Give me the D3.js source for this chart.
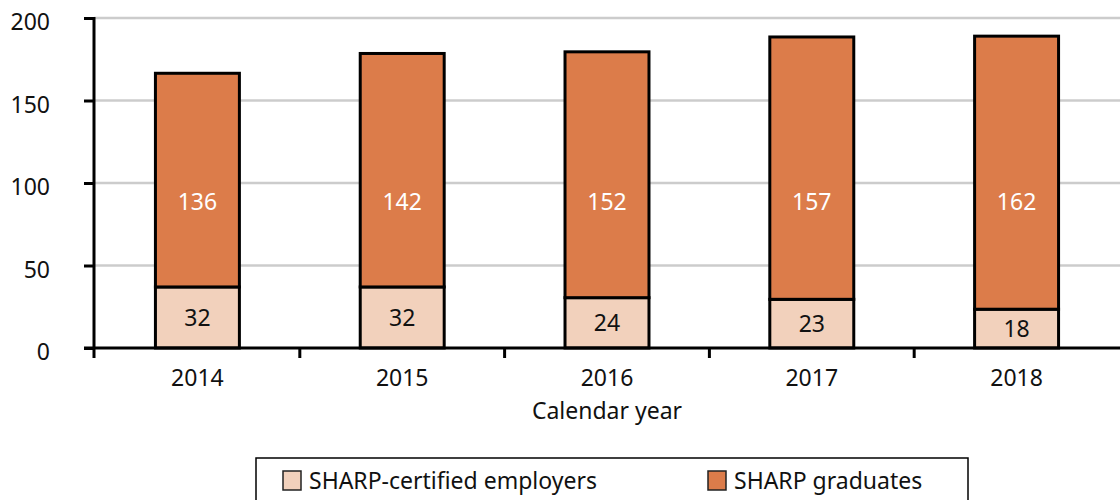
<!DOCTYPE html>
<html>
<head>
<meta charset="utf-8">
<script src="https://cdn.jsdelivr.net/npm/d3@7"></script>
<style>
  body { margin: 0; background: #fff; }
  svg { font-family: "Noto Sans", sans-serif; }
</style>
</head>
<body>
<svg width="1120" height="500"></svg>
<script>
var years = ["2014", "2015", "2016", "2017", "2018"];
// printed labels
var employerLabels = [32, 32, 24, 23, 18];
var graduateLabels = [136, 142, 152, 157, 162];
// segment heights as drawn in the picture (they don't quite match the labels)
var employerBars = [37, 37, 30.5, 29.5, 23.5];
var graduateBars = [129.5, 141.5, 149, 159, 165.5];
var yTicks = [0, 50, 100, 150, 200];
var upperLabelAt = 88.5;

var svg = d3.select("svg");
var margin = { top: 18, left: 94, right: 0, bottom: 152 };
var width = 1120 - margin.left - margin.right,
    height = 500 - margin.top - margin.bottom;

var x = d3.scaleBand().domain(years).range([0, width]).paddingInner(0.59).paddingOuter(0.3);
var y = d3.scaleLinear().domain([0, 200]).range([height, 0]);

var g = svg.append("g")
    .attr("transform", "translate(" + margin.left + "," + margin.top + ")");

// gridlines
g.selectAll(".grid")
  .data(yTicks.slice(1))
  .enter().append("line")
    .attr("x1", 0).attr("x2", width)
    .attr("y1", d => y(d)).attr("y2", d => y(d))
    .attr("stroke", "#cccccc")
    .attr("stroke-width", 2.5);

var data = years.map((yr, i) => ({
  year: yr, emp: employerBars[i], grad: graduateBars[i],
  empLabel: employerLabels[i], gradLabel: graduateLabels[i]
}));

// lower segment
g.selectAll(".emp")
  .data(data)
  .enter().append("rect")
    .attr("x", d => x(d.year))
    .attr("y", d => y(d.emp))
    .attr("width", x.bandwidth())
    .attr("height", d => y(0) - y(d.emp))
    .attr("fill", "#f2d1bc")
    .attr("stroke", "#000")
    .attr("stroke-width", 3);

// upper segment
g.selectAll(".grad")
  .data(data)
  .enter().append("rect")
    .attr("x", d => x(d.year))
    .attr("y", d => y(d.emp + d.grad))
    .attr("width", x.bandwidth())
    .attr("height", d => y(d.emp) - y(d.emp + d.grad))
    .attr("fill", "#dc7c4a")
    .attr("stroke", "#000")
    .attr("stroke-width", 3);

g.selectAll(".empLabel")
  .data(data)
  .enter().append("text")
    .attr("x", d => x(d.year) + x.bandwidth() / 2)
    .attr("y", d => y(d.emp / 2))
    .attr("dy", "0.36em")
    .attr("text-anchor", "middle")
    .attr("font-size", 23)
    .attr("fill", "#111")
    .text(d => d.empLabel);

g.selectAll(".gradLabel")
  .data(data)
  .enter().append("text")
    .attr("x", d => x(d.year) + x.bandwidth() / 2)
    .attr("y", y(upperLabelAt))
    .attr("dy", "0.36em")
    .attr("text-anchor", "middle")
    .attr("font-size", 23)
    .attr("fill", "#fff")
    .text(d => d.gradLabel);

// axes
var yAxis = g.append("g")
    .call(d3.axisLeft(y).tickValues(yTicks).tickSize(10).tickPadding(34).tickSizeOuter(0));
yAxis.select(".domain").remove();
yAxis.selectAll(".tick line").attr("stroke", "#000").attr("stroke-width", 3);
yAxis.selectAll(".tick text")
    .attr("font-size", 23)
    .attr("font-family", "Noto Sans")
    .attr("fill", "#111")
    .attr("dy", "0.5em");

g.append("line")
    .attr("x1", 0).attr("x2", 0)
    .attr("y1", y(200) - 1).attr("y2", height + 10)
    .attr("stroke", "#000").attr("stroke-width", 3);

g.append("line")
    .attr("x1", -10).attr("x2", width)
    .attr("y1", height).attr("y2", height)
    .attr("stroke", "#000").attr("stroke-width", 3);

// ticks between categories
var step = x.step();
g.selectAll(".xtick")
  .data(years.slice(1))
  .enter().append("line")
    .attr("x1", d => x(d) - x.paddingInner() * step / 2)
    .attr("x2", d => x(d) - x.paddingInner() * step / 2)
    .attr("y1", height).attr("y2", height + 10)
    .attr("stroke", "#000").attr("stroke-width", 3);

g.selectAll(".xlabel")
  .data(years)
  .enter().append("text")
    .attr("x", d => x(d) + x.bandwidth() / 2)
    .attr("y", height + 30)
    .attr("dy", "0.36em")
    .attr("text-anchor", "middle")
    .attr("font-size", 23)
    .attr("fill", "#111")
    .text(d => d);

g.append("text")
    .attr("x", x("2016") + x.bandwidth() / 2)
    .attr("y", height + 63)
    .attr("dy", "0.36em")
    .attr("text-anchor", "middle")
    .attr("font-size", 23)
    .attr("fill", "#111")
    .text("Calendar year");

// legend
var legend = svg.append("g");
legend.append("rect")
    .attr("x", 256).attr("y", 458)
    .attr("width", 712).attr("height", 60)
    .attr("fill", "#fff")
    .attr("stroke", "#000").attr("stroke-width", 1.5);

var legendItems = [
  { name: "SHARP-certified employers", color: "#f2d1bc", x: 283 },
  { name: "SHARP graduates", color: "#dc7c4a", x: 708 }
];
var li = legend.selectAll(".item")
  .data(legendItems)
  .enter().append("g")
    .attr("transform", d => "translate(" + d.x + ",471)");
li.append("rect")
    .attr("width", 18).attr("height", 19)
    .attr("fill", d => d.color)
    .attr("stroke", "#222").attr("stroke-width", 1.5);
li.append("text")
    .attr("x", 26).attr("y", 10)
    .attr("dy", "0.36em")
    .attr("font-size", 23)
    .attr("fill", "#111")
    .text(d => d.name);
</script>
</body>
</html>
